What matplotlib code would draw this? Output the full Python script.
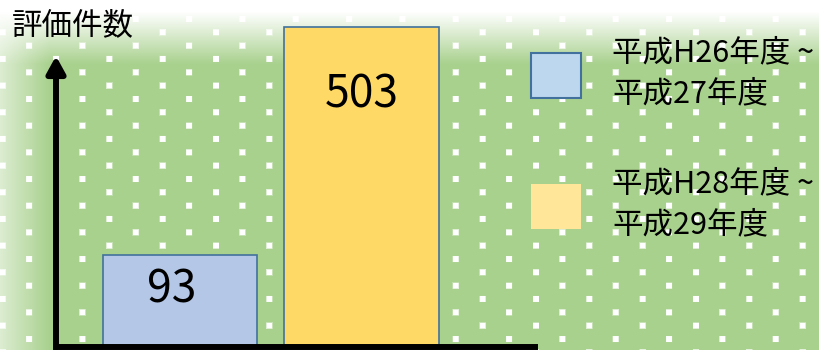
import numpy as np
import matplotlib
matplotlib.use('Agg')
import matplotlib.pyplot as plt
from matplotlib.patches import Patch

plt.rcParams['font.family'] = ['Noto Sans CJK JP', 'DejaVu Sans']

# data
periods = ['平成H26年度 ~\n平成27年度', '平成H28年度 ~\n平成29年度']
counts = [93, 503]
title = '評価件数'

bar_colors = ['#b4c7e7', '#ffd966']
legend_colors = ['#bdd7ee', '#ffe699']
edge = '#41719c'
green = np.array([169, 209, 142]) / 255.0

W, H = 819, 350
fig = plt.figure(figsize=(W / 100, H / 100), dpi=100)

# background: green with white dot pattern, fading to white at top / left
bg = fig.add_axes([0, 0, 1, 1])
bg.set_xlim(0, W)
bg.set_ylim(H, 0)
bg.axis('off')

X, Y = np.meshgrid(np.arange(W) + 0.5, np.arange(H) + 0.5)
dx, dy = 53.33, 26.67
dots = np.zeros((H, W))
for x0, y0 in [(29.1, 19.0), (2.7, 5.6)]:
    ox = np.abs(((X - x0 + dx / 2) % dx) - dx / 2)
    oy = np.abs(((Y - y0 + dy / 2) % dy) - dy / 2)
    d = np.maximum(ox, oy)
    dots = np.maximum(dots, np.clip(3.5 - d, 0, 1))
img = green[None, None, :] * (1 - dots[..., None]) + dots[..., None]

w_top = np.clip((64 - Y) / 52, 0, 1)
w_left = 0.6 * np.clip((50 - X) / 50, 0, 1)
w = 1 - (1 - w_top) * (1 - w_left)
img = img * (1 - w[..., None]) + w[..., None]
bg.imshow(img, extent=(0, W, H, 0), aspect='auto', zorder=0)

# y-axis arrow
bg.annotate('', xy=(56, 56), xytext=(56, 347),
            arrowprops=dict(arrowstyle='-|>,head_length=1.0,head_width=0.55',
                            mutation_scale=10, lw=4.3, color='black',
                            shrinkA=0, shrinkB=0))

# bars
ax = fig.add_axes([56 / W, (H - 347) / H, (535 - 56) / W, 347 / H])
ax.patch.set_alpha(0)
p = 0.7385
ax.set_yscale('function', functions=(lambda v: np.power(np.clip(v, 0, None), p),
                                     lambda v: np.power(np.clip(v, 0, None), 1 / p)))
ax.set_ylim(0, 561)
ax.set_xlim(-0.683, 1.956)
bars = ax.bar(range(len(counts)), counts, width=0.85, color=bar_colors,
              edgecolor=edge, linewidth=1.2, zorder=2)
for s in ['top', 'right', 'left']:
    ax.spines[s].set_visible(False)
ax.spines['bottom'].set_linewidth(4.3)
ax.spines['bottom'].set_color('black')
ax.spines['bottom'].set_zorder(3)
ax.set_xticks([])
ax.set_yticks([])
ax.minorticks_off()
ax.tick_params(which='both', left=False, bottom=False, labelleft=False)

for b, v, xo, yo in zip(bars, counts, [-6, 0], [35, 68]):
    ax.annotate(str(v), (b.get_x() + b.get_width() / 2, v),
                xytext=(xo, -yo / 1.389), textcoords='offset points',
                ha='center', va='center', fontsize=32, zorder=4)

fig.text(12 / W, 1 - 26 / H, title, fontsize=22, ha='left', va='center')

handles = [Patch(facecolor=legend_colors[0], edgecolor=edge, linewidth=1.5),
           Patch(facecolor=legend_colors[1], edgecolor='none')]
leg = fig.legend(handles=handles, labels=periods, loc='upper left',
                 bbox_to_anchor=(531 / W, 1 - 37 / H), bbox_transform=fig.transFigure,
                 frameon=False, fontsize=22, handlelength=1.64, handleheight=1.89,
                 handletextpad=1.01, labelspacing=1.9, borderpad=0, borderaxespad=0)
for t in leg.get_texts():
    t.set_linespacing(1.45)

fig.savefig('out.png', dpi=100)
